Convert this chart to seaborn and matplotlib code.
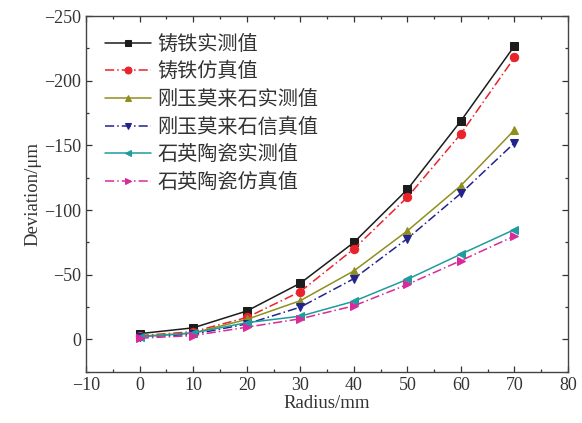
import matplotlib
matplotlib.use("Agg")
import matplotlib.pyplot as plt
from matplotlib.ticker import MultipleLocator
import seaborn as sns
import pandas as pd

radius = [0, 10, 20, 30, 40, 50, 60, 70]

iron_measured = [-4.5, -9, -22, -43.5, -75, -116, -169, -227]
iron_simulated = [-3, -6, -17, -37, -70, -110, -159, -218]
corundum_measured = [-2.5, -5, -15.5, -30, -53, -84, -119, -162]
corundum_simulated = [-2, -4, -12, -25, -47, -78, -113, -152]
quartz_measured = [-2, -5, -13, -18, -29.5, -46.5, -66, -85]
quartz_simulated = [-1, -3, -9.5, -16, -26, -42.5, -61, -80]

labels = ["铸铁实测值", "铸铁仿真值", "刚玉莫来石实测值",
          "刚玉莫来石信真值", "石英陶瓷实测值", "石英陶瓷仿真值"]
series = [iron_measured, iron_simulated, corundum_measured,
          corundum_simulated, quartz_measured, quartz_simulated]
colors = ["#1c1c1c", "#e8232b", "#8f8f1f", "#23238f", "#1f9c9c", "#d92a9c"]
markers = ["s", "o", "^", "v", "<", ">"]
dashes = [None, (6, 2, 1, 2), None, (6, 2, 1, 2), None, (6, 2, 1, 2)]

sns.set_style("ticks")
plt.rcParams["font.family"] = ["Liberation Serif", "Noto Sans CJK SC"]

fig = plt.figure(figsize=(5.82, 4.23), dpi=100)
ax = fig.add_axes([0.148, 0.121, 0.828, 0.841])

for vals, lab, col, mk, ds in zip(series, labels, colors, markers, dashes):
    df = pd.DataFrame({"Radius": radius, "Deviation": vals})
    sns.lineplot(data=df, x="Radius", y="Deviation", ax=ax, color=col,
                 marker=mk, markersize=6, markeredgecolor=col,
                 linewidth=1.1, label=lab)
    if ds is not None:
        ax.get_lines()[-1].set_dashes(ds)

ax.set_xlim(-10, 80)
ax.set_ylim(25, -250)
ax.xaxis.set_major_locator(MultipleLocator(10))
ax.xaxis.set_minor_locator(MultipleLocator(5))
ax.yaxis.set_major_locator(MultipleLocator(50))
ax.yaxis.set_minor_locator(MultipleLocator(25))
ax.tick_params(which="both", direction="in", top=True, right=True,
               labelsize=13, colors="#333333", width=0.9)
ax.tick_params(which="major", length=4)
ax.tick_params(which="minor", length=2.5)
for sp in ax.spines.values():
    sp.set_color("#444444")
    sp.set_linewidth(1.0)

ax.set_xticks(range(-10, 81, 10))
ax.set_xticklabels(["\u221210"] + [str(v) for v in range(0, 81, 10)])
ax.set_yticks(range(-250, 1, 50))
ax.set_yticklabels(["\u2212%d" % -v if v < 0 else "0" for v in range(-250, 1, 50)])

ax.set_xlabel("Radius/mm", fontsize=13.5, color="#333333", labelpad=1)
ax.set_ylabel("Deviation/\u03bcm", fontsize=13.5, color="#333333", labelpad=2)

leg = ax.legend(loc="upper left", bbox_to_anchor=(0.01, 0.99), frameon=False,
                prop={"family": ["Noto Sans CJK SC"], "size": 14.5},
                handlelength=2.3, handletextpad=0.3, labelspacing=0.33,
                borderaxespad=0.3)
for t in leg.get_texts():
    t.set_color("#333333")
for h in leg.legend_handles:
    h.set_markersize(5)

fig.savefig("out.png", dpi=100)
